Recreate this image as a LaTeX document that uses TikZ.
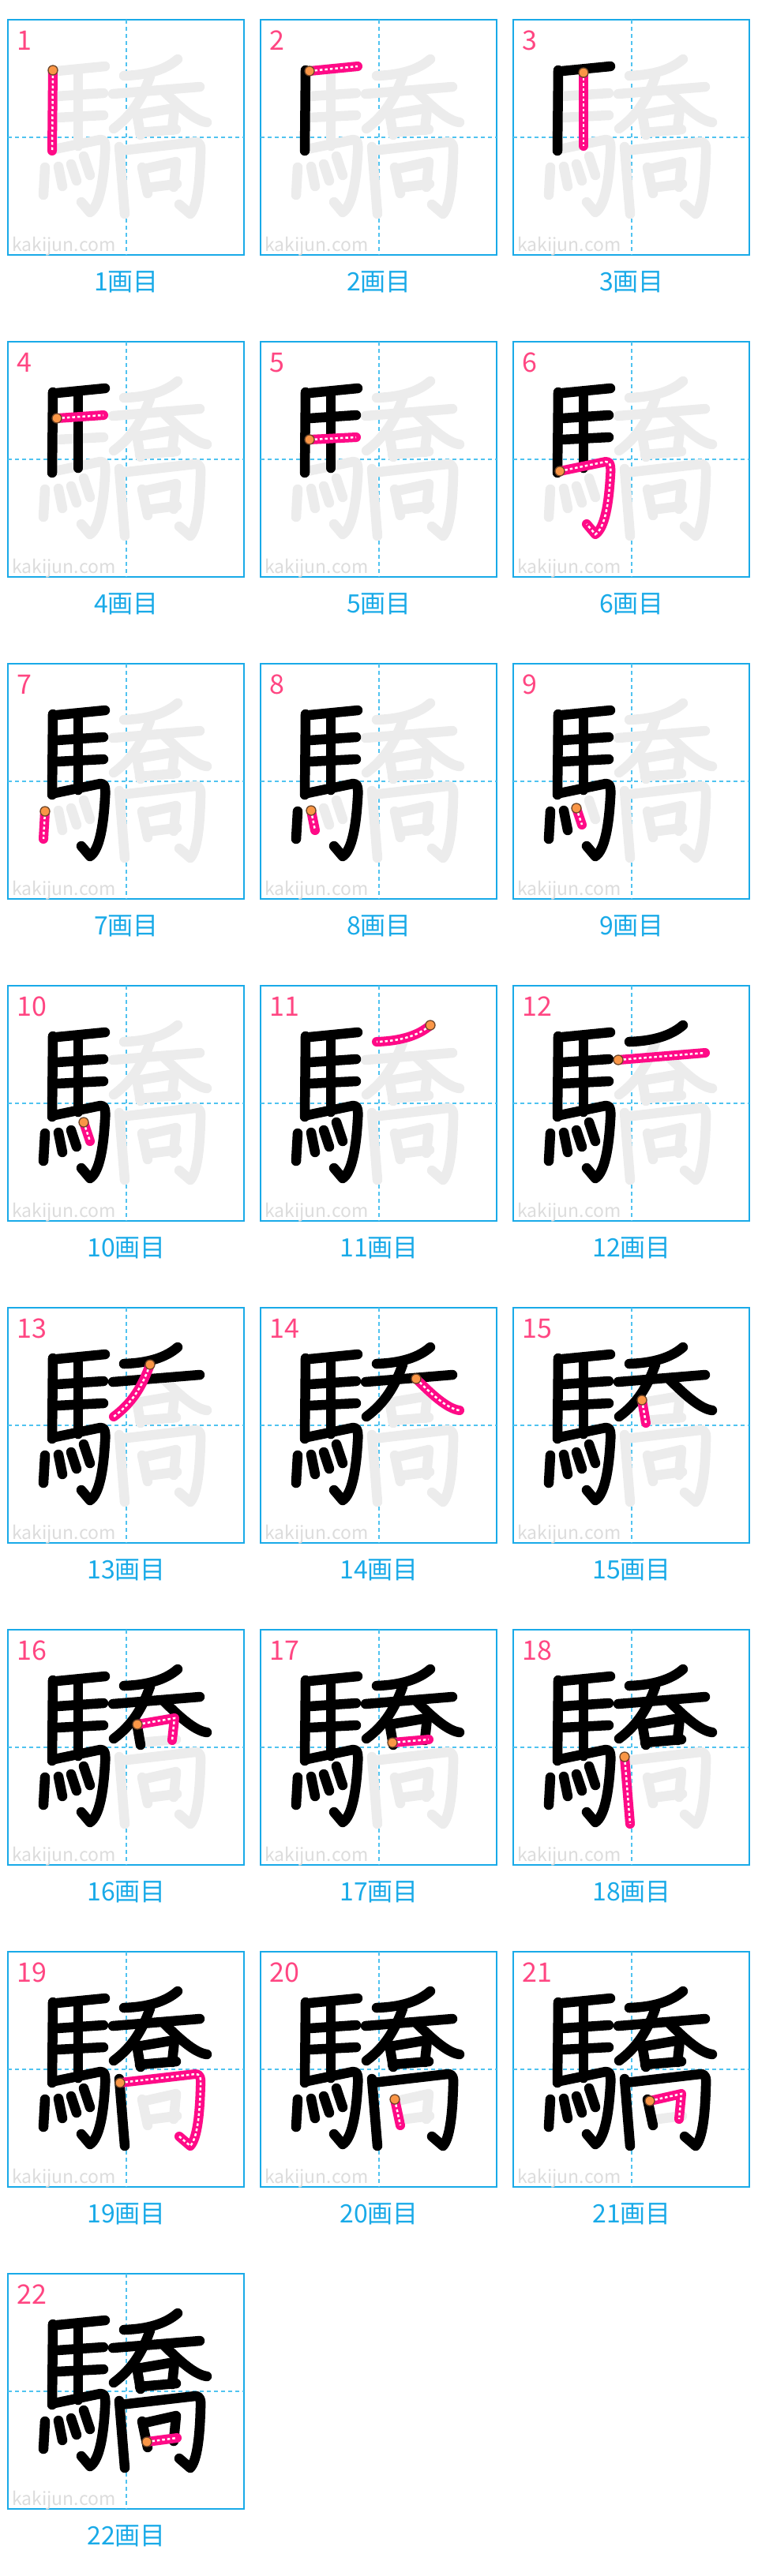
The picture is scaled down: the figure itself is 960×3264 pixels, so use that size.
\documentclass[tikz,border=0pt]{standalone}
\usepackage{fontspec}
\newfontfamily\jpfont{Noto Sans CJK JP}
\usepackage{tikz}

\definecolor{kjblue}{RGB}{25,170,232}
\definecolor{kjguide}{RGB}{80,195,240}
\definecolor{kjpink}{RGB}{255,10,135}
\definecolor{kjnum}{RGB}{255,70,130}
\definecolor{kjghost}{RGB}{236,236,236}
\definecolor{kjorange}{RGB}{250,150,70}
\definecolor{kjbrown}{RGB}{110,70,40}
\definecolor{kjmark}{RGB}{220,220,220}

\tikzset{
  ghost/.style={draw=kjghost, line width=12.5pt, line cap=round, line join=round},
  done/.style={draw=black, line width=12.5pt, line cap=round, line join=round},
  now/.style={draw=kjpink, line width=12pt, line cap=round, line join=round},
  nowdots/.style={draw=white, line width=2.5pt, dash pattern=on 3.5pt off 3pt},
  startdot/.style={fill=kjorange, draw=kjbrown, line width=1.3pt},
  panelbox/.style={draw=kjblue, line width=1.8pt},
  guide/.style={draw=kjguide, line width=1.8pt, dash pattern=on 5pt off 4pt},
  numlbl/.style={text=kjnum, font=\jpfont\fontsize{34}{34}\selectfont, anchor=base west, inner sep=0pt},
  caplbl/.style={text=kjblue, font=\jpfont\fontsize{32}{32}\selectfont, anchor=base, inner sep=0pt},
  wmark/.style={text=kjmark, font=\jpfont\fontsize{23}{23}\selectfont, anchor=base west, inner sep=0pt},
}

% one stroke: number, start point, rest of the path (box units, y down)
\newcommand{\defstroke}[3]{%
  \expandafter\def\csname kst#1\endcsname{#2}%
  \expandafter\def\csname ksp#1\endcsname{(#2) #3}}
\newcommand{\kdraw}[2]{%
  \edef\kpath{\noexpand\draw[#1] \csname ksp#2\endcsname;}\kpath}
\newcommand{\kdot}[1]{%
  \edef\kdotpath{\noexpand\path[startdot] (\csname kst#1\endcsname) circle[radius=6pt];}\kdotpath}

% left part
\defstroke{1}{57,64}{-- (56,166)}
\defstroke{2}{62,65}{-- (123,59)}
\defstroke{3}{89,67}{-- (89,160)}
\defstroke{4}{62,97}{-- (121,93)}
\defstroke{5}{62,124}{-- (121,121)}
\defstroke{6}{59,164}{-- (117,152) .. controls (123,151) and (124,158) .. (123,170) .. controls (121,205) and (116,236) .. (104,244) -- (93,231)}
\defstroke{7}{47,187}{-- (45,222)}
\defstroke{8}{64,186}{-- (69,211)}
\defstroke{9}{80,183}{-- (87,204)}
\defstroke{10}{96,173}{-- (104,197)}
% right part
\defstroke{11}{215,50}{.. controls (200,63) and (178,70) .. (147,71)}
\defstroke{12}{133,94}{-- (243,85)}
\defstroke{13}{180,72}{.. controls (170,100) and (157,121) .. (134,138)}
\defstroke{14}{197,90}{.. controls (215,108) and (236,128) .. (252,130)}
\defstroke{15}{163,117}{-- (168,146)}
\defstroke{16}{164,120}{-- (211,112) -- (208,140)}
\defstroke{17}{167,143}{-- (213,139)}
\defstroke{18}{141,161}{-- (148,246)}
\defstroke{19}{142,166}{-- (237,155) .. controls (243,154) and (245,160) .. (244,170) .. controls (243,205) and (240,236) .. (231,246) -- (217,234)}
\defstroke{20}{170,187}{-- (177,220)}
\defstroke{21}{173,189}{-- (213,180) -- (210,212)}
\defstroke{22}{176,213}{-- (214,208)}

\begin{document}
\begin{tikzpicture}[x=1pt,y=-1pt]
  % page frame
  \useasboundingbox (0,0) rectangle (960,3264);
  \foreach \n in {1,...,22}{
    \pgfmathtruncatemacro\pcol{mod(\n-1,3)}
    \pgfmathtruncatemacro\prow{div(\n-1,3)}
    \begin{scope}[shift={(10+320*\pcol,25+408*\prow)}]
      % box and dashed guides
      \draw[panelbox] (0,0) rectangle (299,298);
      \draw[guide] (150,0) -- (150,298);
      \draw[guide] (0,149) -- (299,149);
      \node[wmark] (mark\n) at (5,293) {kakijun.com};
      % whole character in light grey
      \foreach \k in {1,...,22}{\kdraw{ghost}{\k}}
      % strokes already written
      \foreach \k in {1,...,22}{\ifnum\k<\n\relax\kdraw{done}{\k}\fi}
      % current stroke with its start
      \kdraw{now}{\n}
      \kdraw{nowdots}{\n}
      \kdot{\n}
      \node[numlbl] (num\n) at (11,38) {\n};
      \node[caplbl] (cap\n) at (150,343) {\n{}画目};
    \end{scope}
  }
\end{tikzpicture}
\end{document}
